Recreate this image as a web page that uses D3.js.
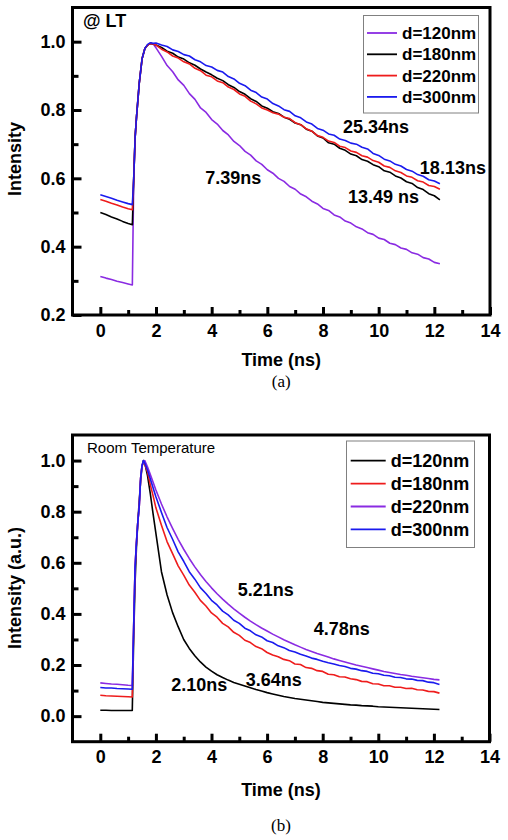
<!DOCTYPE html>
<html>
<head>
<meta charset="utf-8">
<script src="https://cdn.jsdelivr.net/npm/d3@7"></script>
<style>
  html, body { margin: 0; padding: 0; background: #fff; }
  svg { display: block; font-family: "Liberation Sans", Arial, sans-serif; }
</style>
</head>
<body>
<div id="chart"></div>
<script>
// ---- data ----
const xTicks = [0, 2, 4, 6, 8, 10, 12, 14];
const xMinor = [1, 3, 5, 7, 9, 11, 13];
const yTicksA = [0.2, 0.4, 0.6, 0.8, 1.0];
const yMinorA = [0.3, 0.5, 0.7, 0.9];
const yTicksB = [0.0, 0.2, 0.4, 0.6, 0.8, 1.0];
const yMinorB = [0.1, 0.3, 0.5, 0.7, 0.9];

// (a) low temperature, time in ns
const timeA = [0, 0.2, 0.4, 0.6, 0.8, 1.0, 1.15, 1.2, 1.25, 1.3, 1.4, 1.5, 1.6, 1.7, 1.8, 1.9,
  2.0, 2.2, 2.4, 2.6, 2.8, 3.0, 3.2, 3.4, 3.6, 3.8,
  4.0, 4.2, 4.4, 4.6, 4.8, 5.0, 5.2, 5.4, 5.6, 5.8,
  6.0, 6.2, 6.4, 6.6, 6.8, 7.0, 7.2, 7.4, 7.6, 7.8,
  8.0, 8.2, 8.4, 8.6, 8.8, 9.0, 9.2, 9.4, 9.6, 9.8,
  10.0, 10.2, 10.4, 10.6, 10.8, 11.0, 11.2, 11.4, 11.6, 11.8,
  12.0, 12.2];
const ltD120 = [0.313, 0.308, 0.304, 0.299, 0.295, 0.291, 0.288, 0.600, 0.720, 0.780, 0.880, 0.950, 0.980, 0.990, 0.995, 0.993,
  0.982, 0.957, 0.930, 0.912, 0.888, 0.872, 0.848, 0.831, 0.806, 0.793,
  0.772, 0.759, 0.740, 0.727, 0.708, 0.696, 0.679, 0.668, 0.651, 0.641,
  0.625, 0.615, 0.600, 0.591, 0.576, 0.568, 0.554, 0.546, 0.533, 0.525,
  0.512, 0.506, 0.493, 0.487, 0.475, 0.469, 0.458, 0.452, 0.441, 0.436,
  0.425, 0.421, 0.410, 0.406, 0.396, 0.392, 0.382, 0.378, 0.368, 0.364,
  0.354, 0.350];
const ltD180 = [0.500, 0.494, 0.487, 0.481, 0.474, 0.468, 0.464, 0.600, 0.720, 0.780, 0.880, 0.950, 0.980, 0.990, 0.995, 0.993,
  0.990, 0.983, 0.972, 0.966, 0.955, 0.949, 0.938, 0.931, 0.920, 0.911,
  0.903, 0.893, 0.886, 0.874, 0.866, 0.854, 0.846, 0.833, 0.825, 0.812,
  0.805, 0.795, 0.790, 0.779, 0.773, 0.762, 0.757, 0.744, 0.738, 0.724,
  0.718, 0.704, 0.700, 0.688, 0.682, 0.671, 0.666, 0.655, 0.650, 0.640,
  0.634, 0.622, 0.618, 0.607, 0.601, 0.590, 0.585, 0.573, 0.567, 0.555,
  0.549, 0.537];
const ltD220 = [0.538, 0.533, 0.527, 0.522, 0.516, 0.511, 0.508, 0.600, 0.720, 0.780, 0.880, 0.950, 0.980, 0.990, 0.995, 0.993,
  0.990, 0.978, 0.970, 0.958, 0.952, 0.941, 0.935, 0.922, 0.915, 0.902,
  0.897, 0.885, 0.880, 0.867, 0.860, 0.847, 0.840, 0.826, 0.818, 0.806,
  0.800, 0.792, 0.788, 0.779, 0.775, 0.763, 0.757, 0.745, 0.738, 0.725,
  0.720, 0.709, 0.705, 0.694, 0.690, 0.680, 0.676, 0.666, 0.662, 0.652,
  0.647, 0.636, 0.632, 0.622, 0.617, 0.607, 0.603, 0.593, 0.589, 0.579,
  0.576, 0.568];
const ltD300 = [0.552, 0.547, 0.542, 0.536, 0.531, 0.526, 0.523, 0.600, 0.720, 0.780, 0.880, 0.950, 0.980, 0.992, 0.997, 0.995,
  0.996, 0.990, 0.986, 0.976, 0.971, 0.962, 0.958, 0.947, 0.941, 0.930,
  0.926, 0.916, 0.911, 0.898, 0.891, 0.878, 0.871, 0.858, 0.851, 0.838,
  0.832, 0.819, 0.812, 0.801, 0.796, 0.783, 0.777, 0.765, 0.759, 0.746,
  0.741, 0.730, 0.726, 0.715, 0.711, 0.703, 0.700, 0.691, 0.686, 0.673,
  0.667, 0.656, 0.651, 0.641, 0.636, 0.626, 0.621, 0.611, 0.606, 0.596,
  0.592, 0.584];

// (b) room temperature
const timeB = [0, 0.2, 0.4, 0.6, 0.8, 1.0, 1.15, 1.2, 1.25, 1.3, 1.35, 1.4, 1.45, 1.5, 1.55, 1.6, 1.7, 1.8, 1.9,
  2.0, 2.2, 2.4, 2.6, 2.8, 3.0, 3.2, 3.4, 3.6, 3.8,
  4.0, 4.2, 4.4, 4.6, 4.8, 5.0, 5.2, 5.4, 5.6, 5.8,
  6.0, 6.2, 6.4, 6.6, 6.8, 7.0, 7.2, 7.4, 7.6, 7.8,
  8.0, 8.2, 8.4, 8.6, 8.8, 9.0, 9.2, 9.4, 9.6, 9.8,
  10.0, 10.2, 10.4, 10.6, 10.8, 11.0, 11.2, 11.4, 11.6, 11.8,
  12.0, 12.2];
const rtD120 = [0.023, 0.023, 0.022, 0.022, 0.022, 0.022, 0.022, 0.300, 0.520, 0.660, 0.760, 0.840, 0.920, 0.975, 1.000, 0.990, 0.940, 0.870, 0.790,
  0.715, 0.565, 0.475, 0.405, 0.350, 0.300, 0.265, 0.236, 0.212, 0.192,
  0.176, 0.162, 0.151, 0.141, 0.132, 0.125, 0.118, 0.111, 0.104, 0.098,
  0.092, 0.087, 0.082, 0.077, 0.073, 0.069, 0.066, 0.063, 0.060, 0.057,
  0.054, 0.052, 0.050, 0.048, 0.046, 0.044, 0.043, 0.041, 0.040, 0.039,
  0.037, 0.036, 0.035, 0.034, 0.033, 0.032, 0.031, 0.030, 0.029, 0.028,
  0.027, 0.026];
const rtD180 = [0.082, 0.080, 0.079, 0.078, 0.077, 0.076, 0.075, 0.350, 0.580, 0.680, 0.760, 0.820, 0.930, 0.980, 0.995, 0.985, 0.955, 0.905, 0.862,
  0.815, 0.747, 0.683, 0.636, 0.588, 0.552, 0.513, 0.485, 0.453, 0.431,
  0.404, 0.387, 0.363, 0.349, 0.328, 0.316, 0.297, 0.288, 0.272, 0.264,
  0.249, 0.239, 0.232, 0.222, 0.217, 0.204, 0.202, 0.190, 0.187, 0.178,
  0.175, 0.164, 0.162, 0.154, 0.153, 0.146, 0.143, 0.136, 0.135, 0.127,
  0.126, 0.119, 0.119, 0.113, 0.113, 0.108, 0.109, 0.103, 0.102, 0.097,
  0.096, 0.090];
const rtD220 = [0.130, 0.128, 0.126, 0.125, 0.123, 0.121, 0.120, 0.350, 0.580, 0.680, 0.760, 0.820, 0.930, 0.980, 0.995, 1.000, 0.975, 0.945, 0.915,
  0.885, 0.830, 0.780, 0.735, 0.692, 0.653, 0.617, 0.584, 0.554, 0.527,
  0.502, 0.479, 0.458, 0.438, 0.420, 0.403, 0.387, 0.372, 0.358, 0.345,
  0.333, 0.321, 0.310, 0.299, 0.289, 0.279, 0.270, 0.261, 0.253, 0.245,
  0.238, 0.231, 0.224, 0.218, 0.212, 0.206, 0.200, 0.195, 0.190, 0.185,
  0.180, 0.175, 0.171, 0.167, 0.163, 0.160, 0.156, 0.153, 0.150, 0.147,
  0.144, 0.142];
const rtD300 = [0.112, 0.110, 0.110, 0.108, 0.107, 0.106, 0.105, 0.350, 0.580, 0.680, 0.760, 0.820, 0.930, 0.980, 1.000, 0.990, 0.962, 0.928, 0.893,
  0.858, 0.797, 0.738, 0.692, 0.643, 0.606, 0.565, 0.536, 0.503, 0.480,
  0.453, 0.435, 0.411, 0.396, 0.375, 0.363, 0.344, 0.334, 0.318, 0.310,
  0.295, 0.288, 0.275, 0.268, 0.257, 0.251, 0.242, 0.235, 0.227, 0.222,
  0.215, 0.209, 0.204, 0.198, 0.194, 0.187, 0.184, 0.178, 0.175, 0.168,
  0.166, 0.160, 0.158, 0.152, 0.151, 0.146, 0.145, 0.140, 0.139, 0.133,
  0.131, 0.124];

// lifetime labels, placed in data units [time, intensity]
const notesA = [
  { text: '7.39ns', t: 3.77, v: 0.582 },
  { text: '25.34ns', t: 8.72, v: 0.734 },
  { text: '18.13ns', t: 11.48, v: 0.614 },
  { text: '13.49 ns', t: 8.90, v: 0.529 }
];
const notesB = [
  { text: '5.21ns', t: 4.94, v: 0.470 },
  { text: '4.78ns', t: 7.68, v: 0.317 },
  { text: '3.64ns', t: 5.23, v: 0.117 },
  { text: '2.10ns', t: 2.55, v: 0.099 }
];

const PURPLE = '#8a2be2', RED = '#ee1c1c', BLUE = '#1a1aee', BLACK = '#000';

const svg = d3.select('#chart').append('svg')
  .attr('width', 508)
  .attr('height', 840);

function drawPanel(cfg) {
  const b = cfg.box;
  const x = d3.scaleLinear().domain([-1, 14]).range([b.left, b.right]);
  const y = d3.scaleLinear().domain(cfg.yDomain).range([b.bottom, b.top]);
  const g = svg.append('g');

  // data lines
  const line = d3.line().x(d => x(d[0])).y(d => y(d[1]));
  cfg.series.forEach(s => {
    g.append('path')
      .datum(cfg.times.map((t, i) => [t, s.values[i]]))
      .attr('fill', 'none')
      .attr('stroke', s.color)
      .attr('stroke-width', 1.6)
      .attr('stroke-linejoin', 'round')
      .attr('d', line);
  });

  // axes (ticks point inward)
  const styleAxis = sel => {
    sel.select('.domain').remove();
    sel.attr('font-family', null).attr('font-size', 18).attr('font-weight', 'bold');
    sel.selectAll('line').attr('stroke', '#000').attr('stroke-width', 3);
    sel.selectAll('text').attr('fill', '#000');
  };
  g.append('g').attr('transform', `translate(0,${b.bottom})`)
    .call(d3.axisBottom(x).tickValues(xTicks).tickFormat(d3.format('d'))
      .tickSizeInner(-8).tickSizeOuter(0).tickPadding(9))
    .call(styleAxis);
  g.append('g').attr('transform', `translate(0,${b.bottom})`)
    .call(d3.axisBottom(x).tickValues(xMinor).tickFormat('')
      .tickSizeInner(-5).tickSizeOuter(0))
    .call(styleAxis);
  g.append('g').attr('transform', `translate(${b.left},0)`)
    .call(d3.axisLeft(y).tickValues(cfg.yTicks).tickFormat(d3.format('.1f'))
      .tickSizeInner(-9).tickSizeOuter(0).tickPadding(7))
    .call(styleAxis);
  g.append('g').attr('transform', `translate(${b.left},0)`)
    .call(d3.axisLeft(y).tickValues(cfg.yMinor).tickFormat('')
      .tickSizeInner(-6).tickSizeOuter(0))
    .call(styleAxis);

  // frame
  g.append('rect')
    .attr('x', b.left).attr('y', b.top)
    .attr('width', b.right - b.left).attr('height', b.bottom - b.top)
    .attr('fill', 'none').attr('stroke', '#000').attr('stroke-width', 3);

  // axis titles
  g.append('text')
    .attr('x', (b.left + b.right) / 2).attr('y', b.bottom + cfg.xTitleGap)
    .attr('text-anchor', 'middle')
    .style('font-size', '18px').style('font-weight', 'bold')
    .text('Time (ns)');
  g.append('text')
    .attr('transform', `translate(${cfg.yTitleX},${cfg.yTitleY}) rotate(-90)`)
    .attr('text-anchor', 'middle')
    .style('font-size', '18px').style('font-weight', 'bold')
    .text(cfg.yTitle);

  // corner label
  g.append('text')
    .attr('x', cfg.corner.x).attr('y', cfg.corner.y)
    .style('font-size', cfg.corner.size + 'px')
    .style('font-weight', cfg.corner.weight)
    .text(cfg.corner.text);

  // lifetime annotations
  g.selectAll('.note')
    .data(cfg.notes)
    .enter()
    .append('text')
    .attr('class', 'note')
    .attr('x', d => x(d.t))
    .attr('y', d => y(d.v))
    .style('font-size', '18px').style('font-weight', 'bold')
    .text(d => d.text);

  // legend
  const L = cfg.legend;
  const lg = g.append('g');
  lg.append('rect')
    .attr('x', L.x).attr('y', L.y).attr('width', L.w).attr('height', L.h)
    .attr('fill', '#fff').attr('stroke', '#808080').attr('stroke-width', 1);
  cfg.series.forEach((s, i) => {
    const cy = L.firstRow + i * L.rowGap;
    lg.append('line')
      .attr('x1', L.lineX1).attr('x2', L.lineX2)
      .attr('y1', cy).attr('y2', cy)
      .attr('stroke', s.color).attr('stroke-width', 1.8);
    lg.append('text')
      .attr('x', L.textX).attr('y', cy + L.size * 0.36)
      .style('font-size', L.size + 'px').style('font-weight', 'bold')
      .text(s.name);
  });

  // caption
  svg.append('text')
    .attr('x', (b.left + b.right) / 2).attr('y', cfg.captionY)
    .attr('text-anchor', 'middle')
    .style('font-family', '"Liberation Serif", "Times New Roman", serif')
    .style('font-size', '17px')
    .text(cfg.caption);
}

drawPanel({
  box: { left: 72.5, right: 490, top: 7.5, bottom: 315 },
  yDomain: [0.2, 1.1],
  yTicks: yTicksA,
  yMinor: yMinorA,
  times: timeA,
  series: [
    { name: 'd=120nm', values: ltD120, color: PURPLE },
    { name: 'd=180nm', values: ltD180, color: BLACK },
    { name: 'd=220nm', values: ltD220, color: RED },
    { name: 'd=300nm', values: ltD300, color: BLUE }
  ],
  notes: notesA,
  corner: { text: '@ LT', x: 83, y: 27, size: 18, weight: 'bold' },
  xTitleGap: 51,
  yTitle: 'Intensity', yTitleX: 21, yTitleY: 159,
  legend: { x: 363.5, y: 15.5, w: 115, h: 97.5, firstRow: 33, rowGap: 21.3,
            lineX1: 367, lineX2: 397, textX: 402, size: 17 },
  caption: '(a)', captionY: 387
});

drawPanel({
  box: { left: 72.5, right: 489.5, top: 435, bottom: 741.7 },
  yDomain: [-0.1, 1.1],
  yTicks: yTicksB,
  yMinor: yMinorB,
  times: timeB,
  series: [
    { name: 'd=120nm', values: rtD120, color: BLACK },
    { name: 'd=180nm', values: rtD180, color: RED },
    { name: 'd=220nm', values: rtD220, color: PURPLE },
    { name: 'd=300nm', values: rtD300, color: BLUE }
  ],
  notes: notesB,
  corner: { text: 'Room Temperature', x: 87, y: 453, size: 15, weight: 'normal' },
  xTitleGap: 54,
  yTitle: 'Intensity (a.u.)', yTitleX: 20.5, yTitleY: 588,
  legend: { x: 346.5, y: 441, w: 128, h: 106.5, firstRow: 460.7, rowGap: 22.9,
            lineX1: 350.7, lineX2: 385.7, textX: 390.7, size: 18 },
  caption: '(b)', captionY: 831
});
</script>
</body>
</html>
